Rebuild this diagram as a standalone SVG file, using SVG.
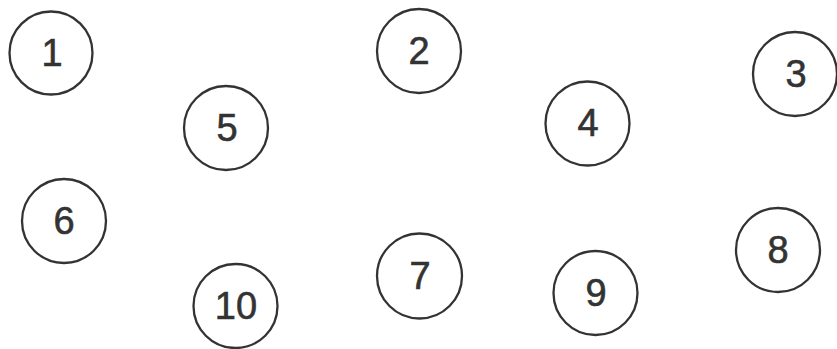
<svg xmlns="http://www.w3.org/2000/svg" width="837" height="349" viewBox="0 0 837 349">
<style>
.n circle{fill:#fff;stroke:#333;stroke-width:2.3}
.n text{font-family:"Liberation Sans",Arial,sans-serif;font-size:38px;fill:#333;stroke:#333;stroke-width:0.6;text-anchor:middle}
</style>
<rect width="837" height="349" fill="#fff"/>
<g id="connectors"></g>
<g id="n1" class="n"><circle cx="51" cy="53" r="41.5"/><text x="52" y="66">1</text></g>
<g id="n2" class="n"><circle cx="419" cy="51" r="42"/><text x="419" y="64">2</text></g>
<g id="n3" class="n"><circle cx="795" cy="74" r="42"/><text x="796" y="87">3</text></g>
<g id="n4" class="n"><circle cx="587.5" cy="123.5" r="42"/><text x="588" y="136">4</text></g>
<g id="n5" class="n"><circle cx="226" cy="128" r="42"/><text x="227" y="141">5</text></g>
<g id="n6" class="n"><circle cx="64" cy="221" r="42"/><text x="64" y="234">6</text></g>
<g id="n7" class="n"><circle cx="419.5" cy="276" r="42.5"/><text x="420" y="289">7</text></g>
<g id="n8" class="n"><circle cx="778" cy="250" r="42"/><text x="778" y="263">8</text></g>
<g id="n9" class="n"><circle cx="595.5" cy="293" r="42"/><text x="596" y="306">9</text></g>
<g id="n10" class="n"><circle cx="235.5" cy="306" r="42"/><text x="236" y="319">10</text></g>
</svg>
